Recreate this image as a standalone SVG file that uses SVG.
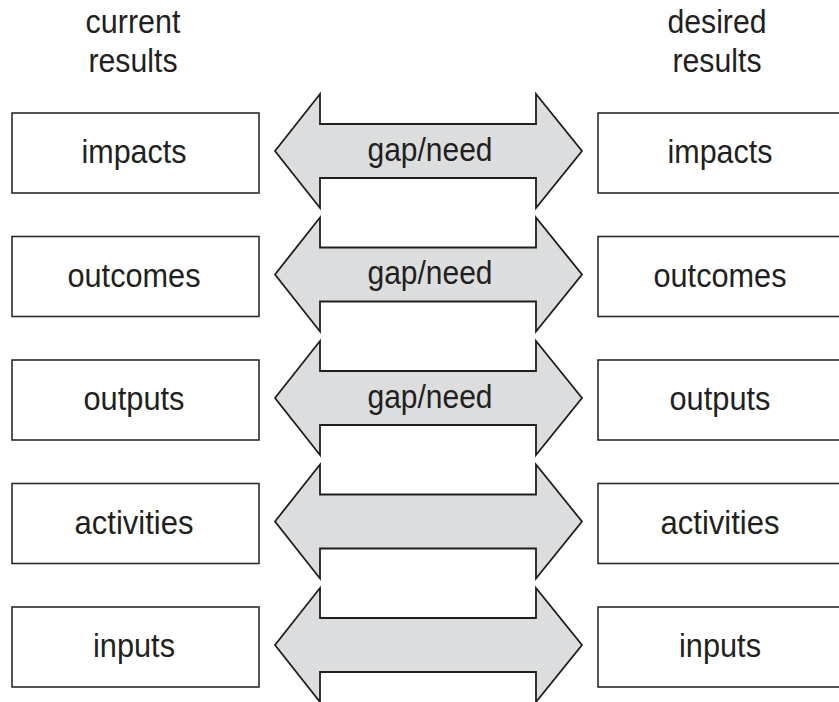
<svg xmlns="http://www.w3.org/2000/svg" xmlns:xlink="http://www.w3.org/1999/xlink" width="839" height="702" viewBox="0 0 839 702">
  <style>
    .box { fill: #ffffff; stroke: #2b2b2b; stroke-width: 1.6; }
    .arrow { fill: #dcddde; stroke: #1e1e1e; stroke-width: 1.8; stroke-linejoin: miter; }
    .lbl { font-family: "Liberation Sans", Arial, sans-serif; font-size: 33px; fill: #231f20; text-anchor: middle; }
  </style>
  <defs>
    <path id="dblArrow" class="arrow" d="M275,0 L320,-57 L320,-27 L536,-27 L536,-57 L582,0 L536,57 L536,27 L320,27 L320,57 Z"/>
  </defs>
  <rect width="839" height="702" fill="#ffffff"/>

  <g id="header-current">
    <text class="lbl" x="133" y="33" textLength="95" lengthAdjust="spacingAndGlyphs">current</text>
    <text class="lbl" x="133" y="72" textLength="89" lengthAdjust="spacingAndGlyphs">results</text>
  </g>
  <g id="header-desired">
    <text class="lbl" x="717" y="33" textLength="99" lengthAdjust="spacingAndGlyphs">desired</text>
    <text class="lbl" x="717" y="72" textLength="89" lengthAdjust="spacingAndGlyphs">results</text>
  </g>

  <g id="connectors">
    <g id="gap-impacts">
      <use xlink:href="#dblArrow" href="#dblArrow" transform="translate(0,151)"/>
      <text class="lbl" x="430" y="160.5" textLength="125" lengthAdjust="spacingAndGlyphs">gap/need</text>
    </g>
    <g id="gap-outcomes">
      <use xlink:href="#dblArrow" href="#dblArrow" transform="translate(0,274.5)"/>
      <text class="lbl" x="430" y="284" textLength="125" lengthAdjust="spacingAndGlyphs">gap/need</text>
    </g>
    <g id="gap-outputs">
      <use xlink:href="#dblArrow" href="#dblArrow" transform="translate(0,398)"/>
      <text class="lbl" x="430" y="407.5" textLength="125" lengthAdjust="spacingAndGlyphs">gap/need</text>
    </g>
    <g id="gap-activities">
      <use xlink:href="#dblArrow" href="#dblArrow" transform="translate(0,521.5)"/>
    </g>
    <g id="gap-inputs">
      <use xlink:href="#dblArrow" href="#dblArrow" transform="translate(0,645)"/>
    </g>
  </g>

  <g id="current-impacts">
    <rect class="box" x="12" y="113" width="247" height="80"/>
    <text class="lbl" x="134" y="163" textLength="105" lengthAdjust="spacingAndGlyphs">impacts</text>
  </g>
  <g id="current-outcomes">
    <rect class="box" x="12" y="236.5" width="247" height="80"/>
    <text class="lbl" x="134" y="286.5" textLength="133" lengthAdjust="spacingAndGlyphs">outcomes</text>
  </g>
  <g id="current-outputs">
    <rect class="box" x="12" y="360" width="247" height="80"/>
    <text class="lbl" x="134" y="410" textLength="101" lengthAdjust="spacingAndGlyphs">outputs</text>
  </g>
  <g id="current-activities">
    <rect class="box" x="12" y="483.5" width="247" height="80"/>
    <text class="lbl" x="134" y="533.5" textLength="119" lengthAdjust="spacingAndGlyphs">activities</text>
  </g>
  <g id="current-inputs">
    <rect class="box" x="12" y="607" width="247" height="80"/>
    <text class="lbl" x="134" y="657" textLength="82" lengthAdjust="spacingAndGlyphs">inputs</text>
  </g>

  <g id="desired-impacts">
    <rect class="box" x="598" y="113" width="245" height="80"/>
    <text class="lbl" x="720" y="163" textLength="105" lengthAdjust="spacingAndGlyphs">impacts</text>
  </g>
  <g id="desired-outcomes">
    <rect class="box" x="598" y="236.5" width="245" height="80"/>
    <text class="lbl" x="720" y="286.5" textLength="133" lengthAdjust="spacingAndGlyphs">outcomes</text>
  </g>
  <g id="desired-outputs">
    <rect class="box" x="598" y="360" width="245" height="80"/>
    <text class="lbl" x="720" y="410" textLength="101" lengthAdjust="spacingAndGlyphs">outputs</text>
  </g>
  <g id="desired-activities">
    <rect class="box" x="598" y="483.5" width="245" height="80"/>
    <text class="lbl" x="720" y="533.5" textLength="119" lengthAdjust="spacingAndGlyphs">activities</text>
  </g>
  <g id="desired-inputs">
    <rect class="box" x="598" y="607" width="245" height="80"/>
    <text class="lbl" x="720" y="657" textLength="82" lengthAdjust="spacingAndGlyphs">inputs</text>
  </g>
</svg>
